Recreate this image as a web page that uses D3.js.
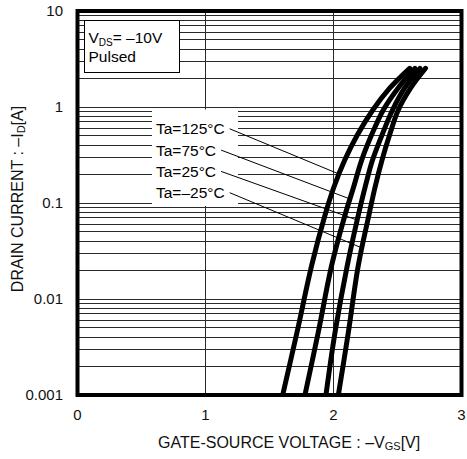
<!DOCTYPE html>
<html>
<head>
<meta charset="utf-8">
<script src="https://cdn.jsdelivr.net/npm/d3@7"></script>
<style>
  html, body { margin: 0; padding: 0; background: #fff; }
  svg { display: block; font-family: "Liberation Sans", Arial, Helvetica, sans-serif; }
</style>
</head>
<body>
<svg id="chart" width="467" height="459"></svg>
<script>
// Drain current levels [A] shared by every temperature curve
const drainCurrent = [0.001, 0.0045, 0.0225, 0.075, 0.145, 0.28, 0.51, 0.93, 1.57, 2.53];

// Gate-source voltage -VGS [V] at each drain current level
const vgsTa125 = [1.603, 1.715, 1.830, 1.934, 2.002, 2.088, 2.186, 2.307, 2.439, 2.595];
const vgsTa75  = [1.777, 1.881, 1.986, 2.090, 2.156, 2.220, 2.297, 2.389, 2.504, 2.637];
const vgsTa25  = [1.941, 2.012, 2.108, 2.194, 2.246, 2.305, 2.379, 2.461, 2.555, 2.676];
const vgsTaM25 = [2.038, 2.116, 2.194, 2.277, 2.324, 2.379, 2.438, 2.506, 2.602, 2.719];

const seriesLabels = ["Ta=125°C", "Ta=75°C", "Ta=25°C", "Ta=–25°C"];
// current at which each label's leader line meets its curve
const leaderCurrent = [0.2, 0.11, 0.0665, 0.034];

const xTickValues = [0, 1, 2, 3];
const xTickLabels = ["0", "1", "2", "3"];
const yTickValues = [0.001, 0.01, 0.1, 1, 10];
const yTickLabels = ["0.001", "0.01", "0.1", "1", "10"];

const series = [vgsTa125, vgsTa75, vgsTa25, vgsTaM25].map(v =>
  v.map((vg, i) => [vg, drainCurrent[i]]));

const svg = d3.select("#chart");
const plot = { left: 77.5, right: 461.5, top: 11, bottom: 395 };

const x = d3.scaleLinear().domain([0, 3]).range([plot.left, plot.right]);
const y = d3.scaleLog().domain([0.001, 10]).range([plot.bottom, plot.top]);

svg.append("defs").append("clipPath").attr("id", "plot-clip")
  .append("rect")
  .attr("x", plot.left).attr("y", plot.top)
  .attr("width", plot.right - plot.left).attr("height", plot.bottom - plot.top);

// log grid: 1..9 in every decade
svg.append("g")
  .attr("stroke", "#2a2a2a").attr("stroke-width", 1).attr("shape-rendering", "crispEdges")
  .selectAll("line").data(y.ticks()).join("line")
  .attr("x1", plot.left).attr("x2", plot.right)
  .attr("y1", d => y(d)).attr("y2", d => y(d));

svg.append("g")
  .attr("stroke", "#2a2a2a").attr("stroke-width", 1).attr("shape-rendering", "crispEdges")
  .selectAll("line").data(xTickValues.slice(1, -1)).join("line")
  .attr("x1", d => x(d)).attr("x2", d => x(d))
  .attr("y1", plot.top).attr("y2", plot.bottom);

// white panel behind the temperature labels
svg.append("rect")
  .attr("x", 152).attr("y", 109.5).attr("width", 86).attr("height", 96.5)
  .attr("fill", "#fff");

// conditions box
const cond = svg.append("g");
cond.append("rect")
  .attr("x", 84.5).attr("y", 20.5).attr("width", 94.5).attr("height", 52)
  .attr("fill", "#fff").attr("stroke", "#000").attr("stroke-width", 1)
  .attr("shape-rendering", "crispEdges");
const vds = cond.append("text").attr("x", 88.5).attr("y", 43.3)
  .attr("font-size", 15.5).attr("fill", "#000");
vds.append("tspan").text("V");
vds.append("tspan").attr("font-size", 10).attr("dy", 2.5).text("DS");
vds.append("tspan").attr("dy", -2.5).text("= –10V");
cond.append("text").attr("x", 88.5).attr("y", 61.7)
  .attr("font-size", 15.5).attr("fill", "#000").text("Pulsed");

// transfer curves
const line = d3.line()
  .x(d => x(d[0])).y(d => y(d[1]))
  .curve(d3.curveCatmullRom.alpha(0.5));

const curves = svg.append("g").attr("clip-path", "url(#plot-clip)")
  .selectAll("path").data(series).join("path")
  .attr("d", line)
  .attr("fill", "none").attr("stroke", "#000")
  .attr("stroke-width", 5).attr("stroke-linecap", "round").attr("stroke-linejoin", "round");

// temperature labels with leader lines
const labelX = 156, labelBaseline0 = 134.3, labelStep = 21.3;
const labels = svg.append("g").attr("font-size", 15.5).attr("fill", "#000");
seriesLabels.forEach((txt, i) => {
  const t = labels.append("text")
    .attr("x", labelX).attr("y", labelBaseline0 + i * labelStep).text(txt);
  const endX = labelX + t.node().getComputedTextLength() + 5;
  const startY = labelBaseline0 + i * labelStep - 5.5;

  // find the point of the drawn curve at the leader's current level
  const path = curves.nodes()[i];
  const total = path.getTotalLength();
  const targetY = y(leaderCurrent[i]);
  let best = null, bestDiff = Infinity;
  for (let s = 0; s <= total; s += 0.25) {
    const p = path.getPointAtLength(s);
    const diff = Math.abs(p.y - targetY);
    if (diff < bestDiff) { bestDiff = diff; best = p; }
  }
  svg.append("line")
    .attr("x1", endX).attr("y1", startY)
    .attr("x2", best.x).attr("y2", best.y)
    .attr("stroke", "#000").attr("stroke-width", 1);
});

// frame
svg.append("rect")
  .attr("x", plot.left).attr("y", plot.top)
  .attr("width", plot.right - plot.left).attr("height", plot.bottom - plot.top)
  .attr("fill", "none").attr("stroke", "#000").attr("stroke-width", 4);

// tick labels
svg.append("g").attr("font-size", 15).attr("fill", "#111").attr("text-anchor", "end")
  .selectAll("text").data(yTickValues).join("text")
  .attr("x", 63).attr("y", d => y(d) + 5.4)
  .text((d, i) => yTickLabels[i]);

svg.append("g").attr("font-size", 15).attr("fill", "#111").attr("text-anchor", "middle")
  .selectAll("text").data(xTickValues).join("text")
  .attr("x", d => x(d)).attr("y", 420)
  .text((d, i) => xTickLabels[i]);

// axis titles
const xt = svg.append("text").attr("x", 158).attr("y", 448)
  .attr("font-size", 16).attr("fill", "#111");
xt.append("tspan").text("GATE-SOURCE VOLTAGE : –V");
xt.append("tspan").attr("font-size", 11).attr("dy", 2).text("GS");
xt.append("tspan").attr("dy", -2).text("[V]");

const yt = svg.append("text")
  .attr("transform", "translate(23.3," + ((plot.top + plot.bottom) / 2 - 4) + ") rotate(-90)")
  .attr("text-anchor", "middle").attr("font-size", 16).attr("fill", "#111");
yt.append("tspan").text("DRAIN CURRENT : –I");
yt.append("tspan").attr("font-size", 11).attr("dy", 2).text("D");
yt.append("tspan").attr("dy", -2).text("[A]");
</script>
</body>
</html>
